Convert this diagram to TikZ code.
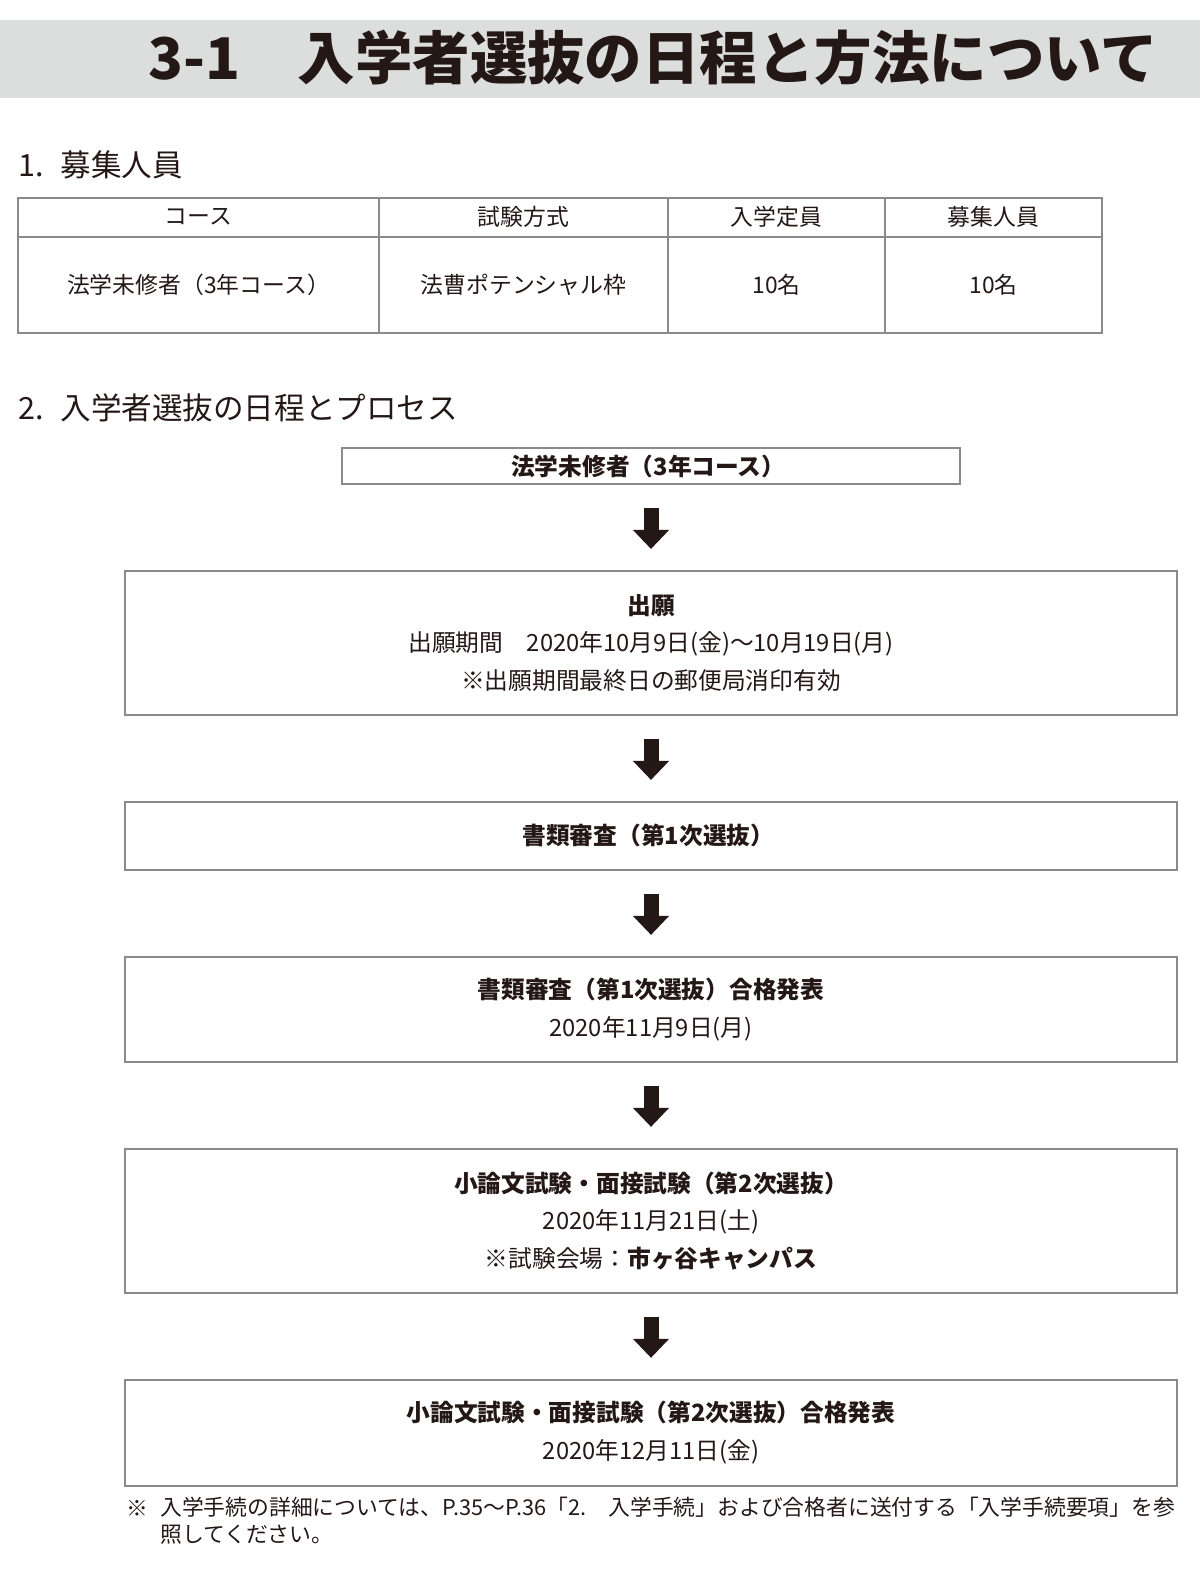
\documentclass[tikz,border=0pt]{standalone}
\usepackage{fontspec}
\setmainfont{Noto Sans CJK JP}
\usetikzlibrary{positioning, arrows.meta}
\definecolor{bandgray}{HTML}{DCDDDD}
\definecolor{framegray}{HTML}{8A8A8A}
\definecolor{inkblack}{HTML}{231815}

\begin{document}
\begin{tikzpicture}[
    x=0.02cm, y=-0.02cm,
    node distance=1.74cm,
    every node/.style={text=inkblack},
    flowbox/.style={rectangle, draw=framegray, line width=0.04cm, minimum width=21.04cm, align=center, inner sep=0pt, outer sep=0pt, font=\fontsize{13.5pt}{21.5pt}\selectfont},
    cell/.style={font=\fontsize{13pt}{16pt}\selectfont},
    heading/.style={anchor=west, font=\fontsize{17.4pt}{20pt}\selectfont},
    grid/.style={draw=framegray, line width=0.04cm},
    arrow/.style={-{Triangle[width=0.7cm, length=0.38cm]}, line width=0.3cm, color=inkblack, shorten <=0.48cm, shorten >=0.44cm}
]
\useasboundingbox (0,0) rectangle (1200,1571);

% Title band
\fill[bandgray] (0,20) rectangle (1200,98);
\node[anchor=west, font=\fontsize{32.7pt}{36pt}\selectfont\bfseries] (title) at (142,58) {3-1　入学者選抜の日程と方法について};

% Section 1: table
\node[heading] (head1) at (12,165) {1.\hspace{0.55em}募集人員};
\draw[grid] (18,198) rectangle (1102,333);
\draw[grid] (18,237) -- (1102,237);
\foreach \x in {379, 668, 885}
    \draw[grid] (\x,198) -- (\x,333);
\node[cell] (hcourse) at (198.5,217) {コース};
\node[cell] (hmethod) at (523.5,217) {試験方式};
\node[cell] (hquota) at (776.5,217) {入学定員};
\node[cell] (hrecruit) at (993.5,217) {募集人員};
\node[cell] (bcourse) at (198.5,285) {法学未修者（3年コース）};
\node[cell] (bmethod) at (523.5,285) {法曹ポテンシャル枠};
\node[cell] (bquota) at (776.5,285) {10名};
\node[cell] (brecruit) at (993.5,285) {10名};

% Section 2: flow
\node[heading] (head2) at (12,408) {2.\hspace{0.55em}入学者選抜の日程とプロセス};

\node[flowbox, minimum width=12.38cm, minimum height=0.72cm] (course) at (651,466) {
    \textbf{法学未修者（3年コース）}
};
\node[flowbox, minimum height=2.88cm, below=of course] (apply) {
    \textbf{出願}\\
    出願期間　2020年10月9日(金)～10月19日(月)\\
    ※出願期間最終日の郵便局消印有効
};
\node[flowbox, minimum height=1.36cm, below=of apply] (screen) {
    \textbf{書類審査（第1次選抜）}
};
\node[flowbox, minimum height=2.1cm, below=of screen] (pass1) {
    \textbf{書類審査（第1次選抜）合格発表}\\
    2020年11月9日(月)
};
\node[flowbox, minimum height=2.88cm, below=of pass1] (exam2) {
    \textbf{小論文試験・面接試験（第2次選抜）}\\
    2020年11月21日(土)\\
    ※試験会場：\textbf{市ヶ谷キャンパス}
};
\node[flowbox, minimum height=2.12cm, below=of exam2] (pass2) {
    \textbf{小論文試験・面接試験（第2次選抜）合格発表}\\
    2020年12月11日(金)
};

% Arrows
\draw[arrow] (course) -- (apply);
\draw[arrow] (apply) -- (screen);
\draw[arrow] (screen) -- (pass1);
\draw[arrow] (pass1) -- (exam2);
\draw[arrow] (exam2) -- (pass2);

% Footnote
\node[font=\fontsize{12.4pt}{15.3pt}\selectfont] (mark) at (137,1508) {※};
\node[anchor=north west, align=left, inner sep=0pt, font=\fontsize{12.4pt}{15.3pt}\selectfont] (note) at (160,1497) {
    入学手続の詳細については、P.35～P.36「2.　入学手続」および合格者に送付する「入学手続要項」を参\\
    照してください。
};

\end{tikzpicture}
\end{document}
